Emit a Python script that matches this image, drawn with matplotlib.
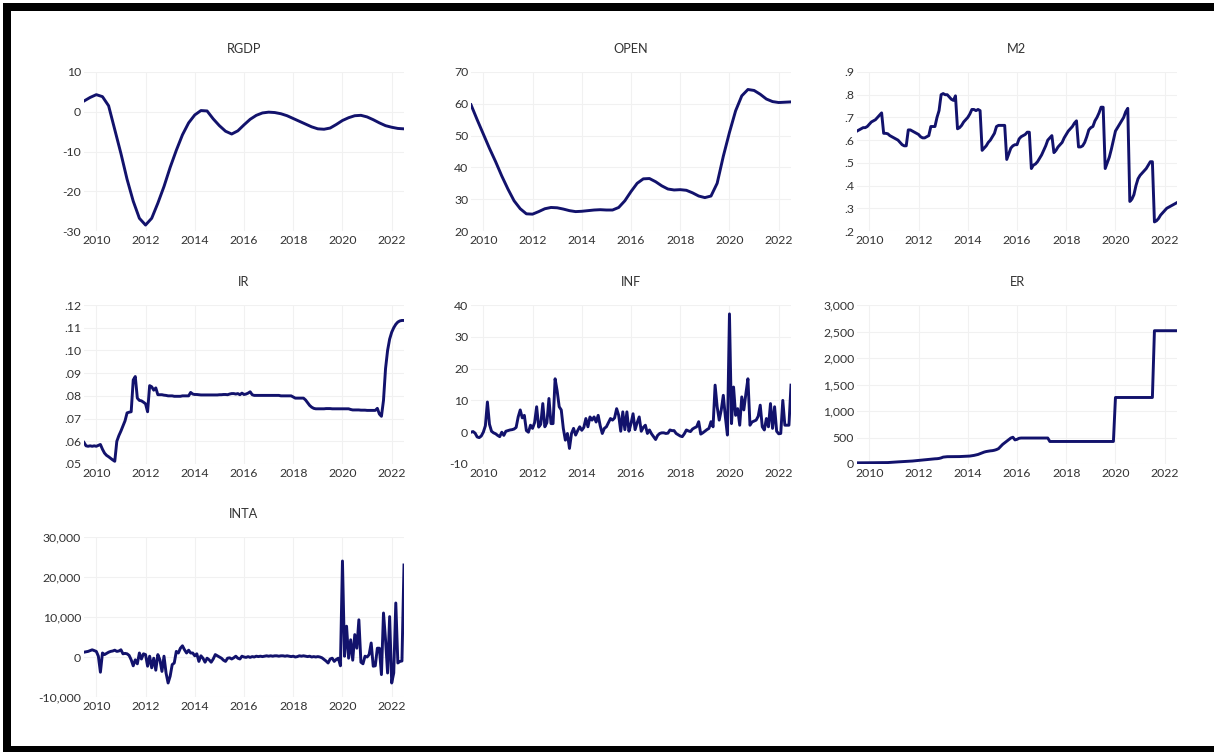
import numpy as np
import pandas as pd
import matplotlib
matplotlib.use("Agg")
import matplotlib.pyplot as plt
from matplotlib.patches import Rectangle
from matplotlib.ticker import FixedLocator, FuncFormatter

plt.rcParams["font.family"] = ["Lato", "DejaVu Sans"]

# ---- sample: monthly 2009M07-2022M07, quarterly 2009Q3-2022Q3 ----
months = pd.period_range("2009-07", "2022-07", freq="M")
quarters = pd.period_range("2009Q3", "2022Q3", freq="Q")
t_month = np.asarray(months.year + (months.month - 1) / 12, dtype=float)
t_quarter = np.asarray(quarters.year + (quarters.quarter - 1) / 4, dtype=float)

year_ticks = [2010, 2012, 2014, 2016, 2018, 2020, 2022]

# ---- quarterly series ----
rgdp = [2.7, 3.6, 4.3, 3.8, 1.5, -4.5, -10.5, -17.0, -22.5, -26.8, -28.5, -26.8,
        -23.0, -18.8, -14.0, -9.7, -5.8, -2.8, -0.8, 0.3, 0.2, -1.8, -3.5, -4.9,
        -5.6, -4.8, -3.3, -1.9, -0.9, -0.3, -0.1, -0.2, -0.5, -1.0, -1.7, -2.4,
        -3.1, -3.8, -4.3, -4.4, -4.1, -3.2, -2.2, -1.5, -1.0, -0.9, -1.3, -2.0,
        -2.8, -3.5, -3.9, -4.2, -4.3]

open_ = [59.7, 55.0, 50.5, 46.0, 41.8, 37.3, 33.2, 29.5, 27.0, 25.4, 25.3, 26.1,
         27.0, 27.4, 27.3, 26.9, 26.4, 26.1, 26.2, 26.4, 26.6, 26.7, 26.6, 26.6,
         27.4, 29.5, 32.4, 35.0, 36.4, 36.5, 35.5, 34.2, 33.2, 32.9, 33.0, 32.8,
         32.0, 31.0, 30.5, 31.0, 35.0, 43.5, 51.0, 57.8, 62.5, 64.5, 64.2, 63.0,
         61.5, 60.7, 60.4, 60.5, 60.6]

# ---- monthly series (one row per calendar year) ----
m2 = [.640, .645, .650, .655, .655, .660,
      .670, .680, .685, .690, .700, .710, .720, .630, .630, .628, .620, .615,
      .610, .605, .600, .590, .580, .575, .575, .645, .645, .640, .635, .630,
      .625, .615, .610, .610, .615, .620, .660, .660, .660, .700, .730, .800,
      .805, .800, .800, .790, .780, .775, .795, .650, .655, .665, .680, .690,
      .700, .715, .735, .735, .730, .735, .730, .555, .565, .575, .590, .600,
      .615, .630, .660, .665, .665, .665, .665, .515, .540, .565, .575, .580,
      .580, .605, .615, .620, .625, .635, .635, .475, .490, .495, .505, .520,
      .535, .555, .575, .600, .610, .620, .545, .555, .570, .580, .590, .610,
      .625, .640, .650, .660, .675, .685, .570, .570, .575, .590, .615, .645,
      .655, .660, .685, .700, .720, .745, .745, .475, .500, .525, .560, .600,
      .640, .655, .670, .685, .700, .725, .740, .330, .340, .360, .400, .430,
      .445, .455, .465, .475, .490, .505, .505, .240, .245, .255, .270, .280,
      .290, .300, .305, .310, .315, .320, .325]

ir = [.0595, .0580, .0578, .0580, .0578, .0580,
      .0578, .0582, .0586, .0565, .0548, .0538, .0532, .0525, .0518, .0512, .0600, .0625,
      .0645, .0668, .0690, .0725, .0728, .0730, .0870, .0885, .0790, .0780, .0778, .0772,
      .0765, .0730, .0845, .0840, .0825, .0835, .0805, .0805, .0805, .0803, .0802, .0800,
      .0800, .0800, .0798, .0798, .0798, .0798, .0800, .0800, .0800, .0800, .0815, .0808,
      .0806, .0806, .0805, .0804, .0804, .0804, .0804, .0804, .0804, .0804, .0804, .0804,
      .0805, .0805, .0806, .0806, .0805, .0808, .0810, .0810, .0808, .0810, .0805, .0812,
      .0806, .0808, .0812, .0818, .0805, .0802, .0802, .0802, .0802, .0802, .0802, .0802,
      .0802, .0802, .0802, .0802, .0802, .0802, .0800, .0800, .0800, .0800, .0800, .0800,
      .0795, .0790, .0790, .0790, .0790, .0790, .0782, .0770, .0758, .0750, .0745, .0743,
      .0743, .0743, .0743, .0743, .0744, .0744, .0744, .0743, .0743, .0743, .0743, .0743,
      .0743, .0743, .0743, .0743, .0740, .0738, .0738, .0738, .0738, .0737, .0737, .0737,
      .0736, .0736, .0736, .0736, .0736, .0745, .0720, .0710, .0780, .0920, .1000, .1050,
      .1080, .1100, .1115, .1125, .1130, .1132, .1132]

inf = [0.0, 0.2, -0.3, -1.5, -1.7, -1.2,
       0.0, 2.0, 9.5, 2.5, 0.3, -0.2, -0.5, -1.0, -1.4, 0.0, -1.0, 0.3,
       0.5, 0.7, 0.8, 1.0, 1.5, 4.8, 7.0, 4.5, 5.3, 0.5, 0.0, 2.2,
       1.2, 3.0, 8.0, 1.6, 2.5, 9.0, 1.7, 3.0, 10.6, 2.7, 2.7, 16.8,
       13.0, 8.0, 7.0, 1.2, -2.5, -0.4, -5.1, -0.4, 1.2, -0.9, 0.5, 1.7,
       0.6, 1.5, 4.3, 1.7, 4.8, 3.8, 4.8, 3.2, 5.3, 2.0, -0.4, 1.2,
       1.7, 3.0, 4.3, 3.8, 4.5, 7.4, 5.3, 0.3, 6.4, 0.8, 6.4, 0.3,
       2.7, 5.8, 0.8, 3.0, 4.8, 0.3, 1.5, 2.2, -0.4, 0.7, -0.5, -1.4,
       -2.3, -1.0, -0.4, -0.2, -0.2, -0.4, -0.3, 0.7, 0.5, 0.5, -0.4, -0.8,
       -1.2, -1.4, -0.5, 0.7, 0.4, 0.2, 1.0, 1.4, 1.7, 3.3, -0.6, -0.2,
       0.3, 0.8, 1.2, 3.3, 1.7, 14.8, 8.0, 3.8, 7.0, 11.6, 4.8, -0.9,
       37.2, 2.7, 14.2, 5.3, 7.4, 2.2, 11.1, 7.0, 12.1, 16.8, 2.2, 3.2,
       3.5, 3.8, 5.0, 8.5, 1.7, 0.7, 4.3, 1.7, 9.0, 1.2, 8.0, 0.3,
       -0.5, -0.4, 10.0, 2.2, 2.2, 2.2, 14.8]

er = [22, 22, 22, 23, 23, 23,
      24, 24, 24, 25, 25, 25, 26, 26, 27, 27, 30, 33,
      36, 38, 40, 42, 44, 46, 48, 50, 53, 56, 60, 65,
      70, 72, 75, 78, 82, 86, 90, 94, 98, 100, 105, 115,
      130, 135, 138, 138, 138, 138, 140, 140, 140, 142, 144, 146,
      148, 150, 155, 162, 170, 180, 195, 210, 225, 235, 242, 248,
      252, 260, 272, 290, 330, 370, 400, 430, 460, 490, 505, 455,
      465, 485, 490, 490, 490, 490, 490, 490, 490, 490, 490, 490,
      490, 490, 490, 490, 425, 425, 425, 425, 425, 425, 425, 425,
      425, 425, 425, 425, 425, 425, 425, 425, 425, 425, 425, 425,
      425, 425, 425, 425, 425, 425, 425, 425, 425, 425, 425, 425,
      1255, 1255, 1255, 1255, 1255, 1255, 1255, 1255, 1255, 1255, 1255, 1255,
      1255, 1255, 1255, 1255, 1255, 1255, 1255, 2515, 2515, 2515, 2515, 2515,
      2515, 2515, 2515, 2515, 2515, 2515, 2515]

inta = [1200, 1300, 1400, 1600, 1800, 1600,
        1400, 200, -3800, 1000, 600, 900, 1200, 1400, 1500, 1700, 1400, 1500,
        1800, 800, 900, 800, 400, -700, -2200, -700, -1700, 1000, -500, 800,
        600, -2300, 200, -2700, -300, -3300, 600, -700, -3600, 200, -4000, -6500,
        -4800, -1900, -1500, 1400, 1000, 2200, 2800, 1800, 1000, 1700, 1000, 1000,
        300, 800, -1100, 300, -300, -1300, -300, -700, -1300, -500, 600, 300,
        0, -300, -800, -1100, -300, -200, -500, -200, 200, -300, -500, 200,
        0, -100, 100, -100, 100, 0, 200, 100, 200, 100, 200, 300,
        200, 300, 200, 300, 300, 200, 300, 300, 200, 300, 200, 100,
        200, 0, 100, 300, 200, 300, 200, 100, 200, 0, 100, 0,
        100, 0, -200, -600, -1000, -1500, -500, -300, -1100, -600, -300, -2200,
        24000, 200, 7700, -300, 4300, -800, 5600, 2200, 9300, -1300, -1700, 200,
        0, 600, 3500, -2300, -2200, 2200, 2200, -4400, 11000, 4300, -4000, 10100,
        -6500, -4000, 13500, -1500, -1100, -1000, 23000]

# ---- y-axis ticks for each panel ----
rgdp_ticks = [-30, -20, -10, 0, 10]
open_ticks = [20, 30, 40, 50, 60, 70]
m2_ticks = [.2, .3, .4, .5, .6, .7, .8, .9]
ir_ticks = [.05, .06, .07, .08, .09, .10, .11, .12]
inf_ticks = [-10, 0, 10, 20, 30, 40]
er_ticks = [0, 500, 1000, 1500, 2000, 2500, 3000]
inta_ticks = [-10000, 0, 10000, 20000, 30000]


def fmt_int(v, _pos=None):
    return f"{v:g}"


def fmt_dec1(v, _pos=None):
    return f"{v:.1f}".replace("0.", ".", 1)


def fmt_dec2(v, _pos=None):
    return f"{v:.2f}".replace("0.", ".", 1)


def fmt_comma(v, _pos=None):
    return f"{v:,.0f}"


W, H = 1214, 754
fig = plt.figure(figsize=(W / 100, H / 100), dpi=100)
fig.patch.set_facecolor("white")

col_left = [84, 471, 857]
col_width = 320
row_top = [72, 305, 537]
row_height = [159, 159, 160]

panels = [
    ("RGDP", t_quarter, rgdp, rgdp_ticks, fmt_int, 0, 0),
    ("OPEN", t_quarter, open_, open_ticks, fmt_int, 0, 1),
    ("M2", t_month, m2, m2_ticks, fmt_dec1, 0, 2),
    ("IR", t_month, ir, ir_ticks, fmt_dec2, 1, 0),
    ("INF", t_month, inf, inf_ticks, fmt_int, 1, 1),
    ("ER", t_month, er, er_ticks, fmt_comma, 1, 2),
    ("INTA", t_month, inta, inta_ticks, fmt_comma, 2, 0),
]

line_color = "#12126c"
text_color = "#333333"

for name, t, vals, yt, fmt, r, c in panels:
    left = col_left[c] / W
    bottom = 1 - (row_top[r] + row_height[r]) / H
    ax = fig.add_axes([left, bottom, col_width / W, row_height[r] / H])
    ax.plot(t, vals, color=line_color, linewidth=2.1, solid_joinstyle="round")
    ax.set_xlim(t_month[0], t_month[-1])
    ax.set_ylim(yt[0], yt[-1])
    ax.xaxis.set_major_locator(FixedLocator(year_ticks))
    ax.xaxis.set_major_formatter(FuncFormatter(lambda v, p: f"{int(round(v))}"))
    ax.yaxis.set_major_locator(FixedLocator(yt))
    ax.yaxis.set_major_formatter(FuncFormatter(fmt))
    for s in ax.spines.values():
        s.set_visible(False)
    ax.tick_params(axis="both", length=0, labelsize=8.8, colors=text_color)
    ax.tick_params(axis="x", pad=3)
    ax.tick_params(axis="y", pad=2)
    ax.grid(True, color="#f1f1f1", linewidth=0.8)
    ax.set_axisbelow(True)
    ax.set_title(name, fontsize=9.2, color=text_color, pad=14)


def frame_band(x, y, w, h):
    fig.add_artist(Rectangle((x / W, 1 - (y + h) / H), w / W, h / H,
                             transform=fig.transFigure, facecolor="black",
                             edgecolor="none", zorder=10))


frame_band(3, 3, W - 3, 8)      # top
frame_band(3, 3, 8, 749)        # left
frame_band(3, 746, W - 3, 6)    # bottom

fig.savefig("out.png", dpi=100, facecolor="white")
